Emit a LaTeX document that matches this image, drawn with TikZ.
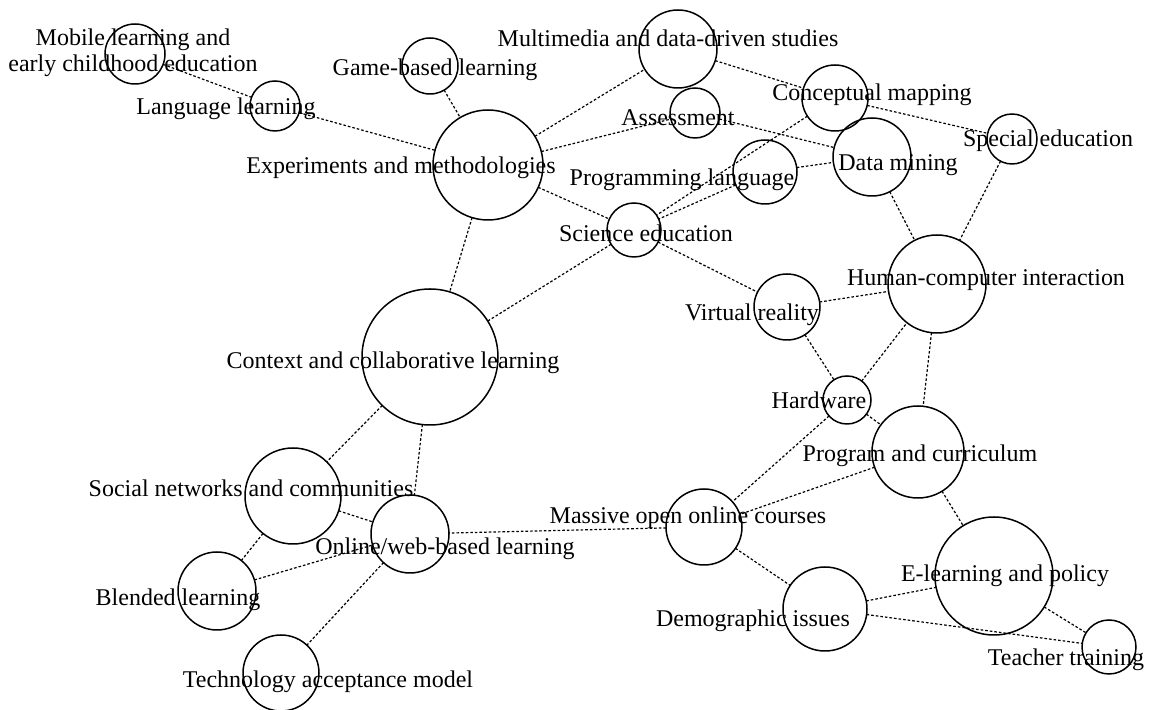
\documentclass[tikz,border=0pt]{standalone}
\usepackage{fontspec}
\setmainfont{Liberation Serif}

\begin{document}
\begin{tikzpicture}[x=0.5pt, y=-0.5pt,
        topic/.style={draw, circle, line width=0.75pt, inner sep=0pt, outer sep=0pt},
        lbl/.style={inner sep=0pt, font=\fontsize{12}{13}\selectfont, text height=9.5pt, text depth=1.4pt},
        link/.style={line width=0.6pt, dash pattern=on 1.3pt off 1pt}]

            \useasboundingbox (0,0) rectangle (1153,710);

            % topics
            \draw (135,54) node[topic, minimum size=30pt] (ML) {};
            \draw (275,106) node[topic, minimum size=25pt] (LL) {};
            \draw (430,66) node[topic, minimum size=28pt] (GB) {};
            \draw (678,49) node[topic, minimum size=39pt] (MM) {};
            \draw (695,113) node[topic, minimum size=25pt] (AS) {};
            \draw (488,165) node[topic, minimum size=55pt] (EM) {};
            \draw (835,98) node[topic, minimum size=33pt] (CM) {};
            \draw (1012,139) node[topic, minimum size=25pt] (SE) {};
            \draw (872,157) node[topic, minimum size=39pt] (DM) {};
            \draw (765,172) node[topic, minimum size=32pt] (PL) {};
            \draw (634,230) node[topic, minimum size=27pt] (SC) {};
            \draw (937,284) node[topic, minimum size=49pt] (HC) {};
            \draw (787,307) node[topic, minimum size=33pt] (VR) {};
            \draw (430,357) node[topic, minimum size=68pt] (CC) {};
            \draw (847,400) node[topic, minimum size=24pt] (HW) {};
            \draw (918,452) node[topic, minimum size=46pt] (PC) {};
            \draw (704,527) node[topic, minimum size=38pt] (MO) {};
            \draw (825,609) node[topic, minimum size=42pt] (DI) {};
            \draw (994,576) node[topic, minimum size=59pt] (EL) {};
            \draw (1109,647) node[topic, minimum size=27pt] (TT) {};
            \draw (293,496) node[topic, minimum size=48pt] (SN) {};
            \draw (410,534) node[topic, minimum size=39pt] (OW) {};
            \draw (217,591) node[topic, minimum size=39pt] (BL) {};
            \draw (281,673) node[topic, minimum size=38pt] (TA) {};

            % labels
            \draw (133,53) node[lbl, text height=, text depth=, align=center] (tML) {Mobile learning and\\early childhood education};
            \draw (226,106) node[lbl] (tLL) {Language learning};
            \draw (435,67) node[lbl] (tGB) {Game-based learning};
            \draw (668,38) node[lbl] (tMM) {Multimedia and data-driven studies};
            \draw (678,117) node[lbl] (tAS) {Assessment};
            \draw (401,165) node[lbl] (tEM) {Experiments and methodologies};
            \draw (872,92) node[lbl] (tCM) {Conceptual mapping};
            \draw (1048,138) node[lbl] (tSE) {Special education};
            \draw (898,162) node[lbl] (tDM) {Data mining};
            \draw (682,177) node[lbl] (tPL) {Programming language};
            \draw (646,233) node[lbl] (tSC) {Science education};
            \draw (986,277) node[lbl] (tHC) {Human-computer interaction};
            \draw (752,312) node[lbl] (tVR) {Virtual reality};
            \draw (393,360) node[lbl] (tCC) {Context and collaborative learning};
            \draw (819,400) node[lbl] (tHW) {Hardware};
            \draw (920,453) node[lbl] (tPC) {Program and curriculum};
            \draw (688,515) node[lbl] (tMO) {Massive open online courses};
            \draw (753,618) node[lbl] (tDI) {Demographic issues};
            \draw (1005,573) node[lbl] (tEL) {E-learning and policy};
            \draw (1066,657) node[lbl] (tTT) {Teacher training};
            \draw (251,488) node[lbl] (tSN) {Social networks and communities};
            \draw (445,546) node[lbl] (tOW) {Online/web-based learning};
            \draw (178,597) node[lbl] (tBL) {Blended learning};
            \draw (328,679) node[lbl] (tTA) {Technology acceptance model};

            \begin{scope}[link]
                \draw (ML) -- (LL);
                \draw (LL) -- (EM);
                \draw (GB) -- (EM);
                \draw (EM) -- (MM);
                \draw (EM) -- (AS);
                \draw (EM) -- (SC);
                \draw (EM) -- (CC);
                \draw (MM) -- (CM);
                \draw (AS) -- (DM);
                \draw (CM) -- (SE);
                \draw (CM) -- (SC);
                \draw (PL) -- (SC);
                \draw (PL) -- (DM);
                \draw (DM) -- (HC);
                \draw (SE) -- (HC);
                \draw (SC) -- (VR);
                \draw (SC) -- (CC);
                \draw (VR) -- (HC);
                \draw (VR) -- (HW);
                \draw (HW) -- (HC);
                \draw (HC) -- (PC);
                \draw (HW) -- (PC);
                \draw (HW) -- (MO);
                \draw (PC) -- (MO);
                \draw (MO) -- (OW);
                \draw (MO) -- (DI);
                \draw (PC) -- (EL);
                \draw (DI) -- (EL);
                \draw (DI) -- (TT);
                \draw (EL) -- (TT);
                \draw (CC) -- (SN);
                \draw (CC) -- (OW);
                \draw (SN) -- (OW);
                \draw (SN) -- (BL);
                \draw (BL) -- (OW);
                \draw (OW) -- (TA);
            \end{scope}
        \end{tikzpicture}
\end{document}
